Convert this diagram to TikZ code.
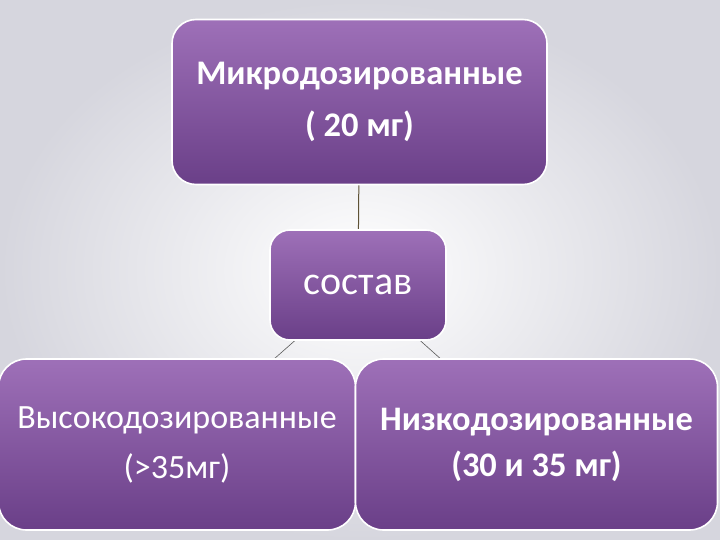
\documentclass[tikz,border=0pt]{standalone}
\usepackage{fontspec}
\setmainfont{Carlito}
\usetikzlibrary{backgrounds}
\pgfdeclarelayer{back}
\pgfsetlayers{back,background,main}
\definecolor{boxtop}{HTML}{9E70B8}
\definecolor{boxbot}{HTML}{6A3F88}
\definecolor{bgedge}{HTML}{D6D6DE}
\definecolor{stemcol}{HTML}{5E5236}
\definecolor{diagcol}{HTML}{5A5A5A}
\tikzset{
  purplebox/.style={draw=white, line width=1.6pt, top color=boxtop, bottom color=boxbot,
    text=white, align=center, inner sep=0pt},
  stemline/.style={draw=stemcol, line width=1pt},
  diagline/.style={draw=diagcol, line width=0.6pt}
}
\begin{document}
\begin{tikzpicture}[x=1pt,y=-1pt]
\begin{pgfonlayer}{back}
\shade[inner color=white, outer color=bgedge] (0,0) rectangle (720,540);
\end{pgfonlayer}
\useasboundingbox (0,0) rectangle (720,540);
\node[purplebox, rounded corners=24pt, minimum width=375pt, minimum height=165pt,
  font=\fontsize{34.5}{52}\selectfont\bfseries] (top) at (359.5,102)
  {Микродозированные \\ ( 20 мг)};
\node[purplebox, rounded corners=20pt, minimum width=176pt, minimum height=110pt,
  font=\fontsize{40}{46}\selectfont] (mid) at (358,285) {состав};
\node[purplebox, rounded corners=28pt, minimum width=357pt, minimum height=171pt,
  font=\fontsize{34}{50}\selectfont] (bl) at (177,444.5)
  {Высокодозированные\\(>35мг)};
\node[purplebox, rounded corners=28pt, minimum width=362pt, minimum height=171pt,
  font=\fontsize{34.4}{46}\selectfont\bfseries] (br) at (536.5,444.5)
  {Низкодозированные\\(30 и 35 мг)};
\begin{pgfonlayer}{background}
\draw[stemline] (top.center) -- (mid.center);
\draw[diagline] (mid.center) -- (bl.center);
\draw[diagline] (mid.center) -- (br.center);
\end{pgfonlayer}
\end{tikzpicture}
\end{document}
